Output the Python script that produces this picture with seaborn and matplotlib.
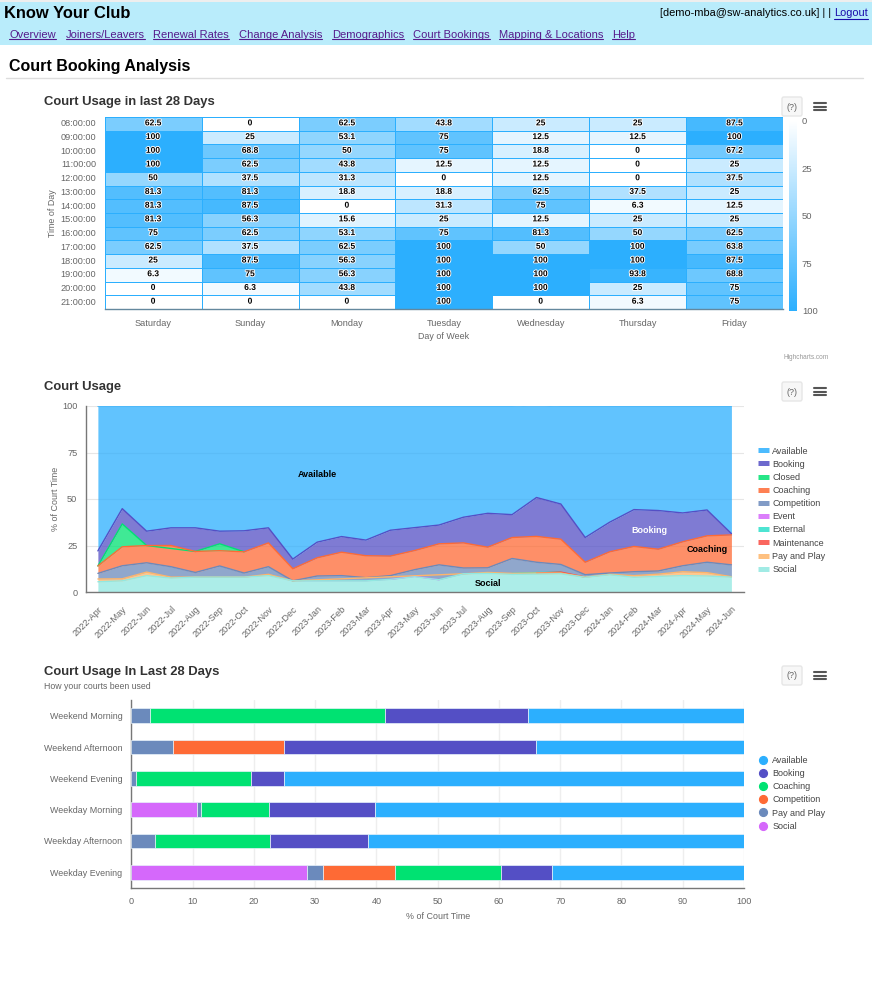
import numpy as np
import pandas as pd
import matplotlib
matplotlib.use("Agg")
import matplotlib.pyplot as plt
import matplotlib.patheffects as pe
from matplotlib.lines import Line2D
from matplotlib.patches import Rectangle, FancyBboxPatch
import seaborn as sns

# heatmap data
days = ["Saturday", "Sunday", "Monday", "Tuesday", "Wednesday", "Thursday", "Friday"]
hours = ["08:00:00", "09:00:00", "10:00:00", "11:00:00", "12:00:00", "13:00:00", "14:00:00",
         "15:00:00", "16:00:00", "17:00:00", "18:00:00", "19:00:00", "20:00:00", "21:00:00"]
saturday = [62.5, 100, 100, 100, 50, 81.3, 81.3, 81.3, 75, 62.5, 25, 6.3, 0, 0]
sunday = [0, 25, 68.8, 62.5, 37.5, 81.3, 87.5, 56.3, 62.5, 37.5, 87.5, 75, 6.3, 0]
monday = [62.5, 53.1, 50, 43.8, 31.3, 18.8, 0, 15.6, 53.1, 62.5, 56.3, 56.3, 43.8, 0]
tuesday = [43.8, 75, 75, 12.5, 0, 18.8, 31.3, 25, 75, 100, 100, 100, 100, 100]
wednesday = [25, 12.5, 18.8, 12.5, 12.5, 62.5, 75, 12.5, 81.3, 50, 100, 100, 100, 0]
thursday = [25, 12.5, 0, 0, 0, 37.5, 6.3, 25, 50, 100, 100, 93.8, 25, 6.3]
friday = [87.5, 100, 67.2, 25, 37.5, 25, 12.5, 25, 62.5, 63.8, 87.5, 68.8, 75, 75]

# stacked area data, % of court time per month
months = ["2022-Apr", "2022-May", "2022-Jun", "2022-Jul", "2022-Aug", "2022-Sep", "2022-Oct", "2022-Nov", "2022-Dec",
          "2023-Jan", "2023-Feb", "2023-Mar", "2023-Apr", "2023-May", "2023-Jun", "2023-Jul", "2023-Aug", "2023-Sep",
          "2023-Oct", "2023-Nov", "2023-Dec", "2024-Jan", "2024-Feb", "2024-Mar", "2024-Apr", "2024-May", "2024-Jun"]
social = [5.5, 6, 8.8, 7.5, 8, 8, 8, 8.8, 6, 6, 6, 6, 6.8, 8.2, 6.6, 9.8, 10, 9.5, 9.6, 9.8, 7.9, 9.3, 7.9, 8.4, 8.8, 8.6, 8]
pay_play = [1.5, 1.1, 1.9, 0.5, 0, 0, 0, 0.7, 0, 0, 0, 0, 0, 0, 0, 0, 0.5, 0.5, 0.6, 0.4, 0.1, 0.2, 0.9, 1.2, 2.1, 1.8, 0.2]
maintenance = [0, 0, 0, 0, 0, 0, 0, 0, 0, 0, 0, 0, 0, 0, 0, 0, 0, 0, 0, 0.5, 0, 0, 0, 0, 0, 0, 0]
external = [0, 0, 0, 0, 0, 0, 0, 0, 0, 0, 0, 0, 0, 0, 0, 0, 0, 0, 0.3, 0, 0, 0, 0, 0, 0, 0, 0]
event = [0, 0, 0, 0, 0, 0, 0, 0, 0, 0, 0, 0, 0, 0.3, 0, 0, 0, 0, 0, 0, 0, 0, 0, 0, 0, 0, 0]
competition = [3, 7, 5, 5.6, 2.5, 6, 2.2, 4.1, 0, 2.6, 2.8, 1.7, 2, 3.5, 8, 3.1, 2.5, 8, 5.5, 4.1, 1.3, 0.7, 2.1, 1.7, 3.2, 5.6, 6.4]
coaching = [4, 10.2, 9.3, 11.4, 11.3, 8.2, 11.4, 12.8, 6.5, 9.8, 12.6, 11.8, 10.5, 10.3, 11.3, 13.5, 11.1, 11.3, 13.9, 13.6, 6.7, 11.4, 13.6, 11.7, 12.9, 14.2, 16.1]
closed = [0, 12.3, 0, 0, 0, 3.7, 0, 0, 0, 0, 0, 0, 0, 0, 0, 0, 0, 0, 0, 0, 0, 0, 0, 0, 0, 0, 0]
booking = [8.1, 8.2, 7.7, 9.5, 12.7, 6.8, 11.3, 8.1, 5.2, 8.4, 8.4, 8.4, 13.9, 12.3, 10.1, 13.8, 18.2, 12.3, 20.9, 18.9, 13.3, 15.9, 19.8, 20.8, 15.5, 13.9, 0.7]
available = [77.9, 55.2, 67.3, 65.5, 65.5, 67.3, 67.1, 65.5, 82.3, 73.2, 70.2, 72.1, 66.8, 65.4, 64, 59.8, 57.7, 58.4, 49.8, 52.7, 70.7, 62.5, 55.7, 56.2, 57.5, 55.9, 68.6]

# stacked bar data
bar_groups = ["Weekend Morning", "Weekend Afternoon", "Weekend Evening",
              "Weekday Morning", "Weekday Afternoon", "Weekday Evening"]
bar_social = [0, 0, 0, 10.8, 0, 28.6]
bar_pay_play = [3.1, 6.8, 0.7, 0.5, 3.8, 2.7]
bar_competition = [0, 18.2, 0, 0, 0, 11.8]
bar_coaching = [38.3, 0, 18.9, 11.2, 18.8, 17.3]
bar_booking = [23.3, 41, 5.4, 17.3, 16.1, 8.2]
bar_available = [35.3, 34, 75, 60.2, 61.3, 31.4]

nav_links = ["Overview", "Joiners/Leavers", "Renewal Rates", "Change Analysis",
             "Demographics", "Court Bookings", "Mapping & Locations", "Help"]
nav_x = [9, 66, 153, 239, 332, 413, 499, 612]

BLUE, PURPLE, GREEN, ORANGE, SLATE, PINK = "#2caffe", "#544fc5", "#00e272", "#fe6a35", "#6b8abc", "#d568fb"
TEAL, RED, PEACH, AQUA = "#2ee0ca", "#fa4b42", "#feb56a", "#91e8e1"
GREY = "#666666"
W, H = 872, 1001

sns.set_theme(style="white")
plt.rcParams["font.family"] = ["Liberation Sans", "DejaVu Sans"]

fig = plt.figure(figsize=(W / 100, H / 100), dpi=100, facecolor="white")


def px_axes(x0, y0, x1, y1):
    return fig.add_axes([x0 / W, 1 - y1 / H, (x1 - x0) / W, (y1 - y0) / H])


def page_text(x, y, s, **kw):
    kw.setdefault("va", "center")
    # centre alignment sits a little high against the browser text
    return fig.text(x / W, 1 - (y + 1.5) / H, s, **kw)


def underline(t, y, color):
    box = t.get_window_extent(fig.canvas.get_renderer())
    fig.add_artist(Line2D([box.x0 / W, box.x1 / W], [1 - y / H, 1 - y / H], color=color, lw=0.8))


def chart_buttons(top):
    fig.add_artist(FancyBboxPatch((782 / W, 1 - (top + 20) / H), 20 / W, 19 / H,
                                  boxstyle="round,pad=0,rounding_size=0.002", transform=fig.transFigure,
                                  fc="#f7f7f7", ec="#e6e6e6", lw=1))
    page_text(792, top + 9.5, "(?)", color=GREY, fontsize=6.5, ha="center")
    for dy in (7, 10.5, 14):
        yy = 1 - (top + dy) / H
        fig.add_artist(Line2D([814 / W, 826 / W], [yy, yy], color="#555555", lw=1.5))


# page header
fig.add_artist(Rectangle((0, 1 - 2 / H), 1, 2 / H, transform=fig.transFigure, fc="#eeeeee", ec="none"))
fig.add_artist(Rectangle((0, 1 - 45 / H), 1, 43 / H, transform=fig.transFigure, fc="#b9ecfb", ec="none"))
page_text(4, 11.5, "Know Your Club", fontsize=11.9, fontweight="bold", color="black")
logout = page_text(868, 12, "Logout", fontsize=7.9, color="#1a0dab", ha="right")
page_text(831.5, 12, "[demo-mba@sw-analytics.co.uk] | |", fontsize=7.9, color="black", ha="right")
underline(logout, 19, "#1a0dab")
for name, x in zip(nav_links, nav_x):
    underline(page_text(x, 37.5 - 1.5, name, fontsize=8.0, color="#551a8b", va="baseline"), 39, "#551a8b")
page_text(9, 64.5, "Court Booking Analysis", fontsize=11.5, fontweight="bold", color="black")
fig.add_artist(Line2D([6 / W, 863 / W], [1 - 78 / H] * 2, color="#dddddd", lw=1))

# heatmap
page_text(44, 101, "Court Usage in last 28 Days", fontsize=9.4, fontweight="bold", color="#333333")
chart_buttons(96)
heat_df = pd.DataFrame({"Saturday": saturday, "Sunday": sunday, "Monday": monday, "Tuesday": tuesday,
                        "Wednesday": wednesday, "Thursday": thursday, "Friday": friday}, index=hours)[days]
ax1 = px_axes(104.7, 117, 783, 309)
cax = px_axes(789, 120.5, 797, 311)
cmap = sns.blend_palette(["#ffffff", BLUE], as_cmap=True)
sns.heatmap(heat_df, ax=ax1, cbar_ax=cax, cmap=cmap, vmin=0, vmax=100, annot=True, fmt="g",
            linewidths=0.6, linecolor=BLUE, xticklabels=True, yticklabels=True,
            annot_kws={"fontsize": 6.1, "fontweight": "bold", "color": "black"})
for t in ax1.texts:
    t.set_path_effects([pe.withStroke(linewidth=1.3, foreground="white")])
ax1.tick_params(axis="both", length=0, labelsize=6.6, labelcolor=GREY)
ax1.tick_params(axis="x", pad=7)
ax1.tick_params(axis="y", pad=6, labelrotation=0)
ax1.set_xlabel("Day of Week", fontsize=6.4, color=GREY, labelpad=3)
ax1.set_ylabel("Time of Day", fontsize=6.4, color=GREY, labelpad=2.5)
ax1.spines["bottom"].set_visible(True)
ax1.spines["bottom"].set_color("#64889e")
ax1.spines["bottom"].set_linewidth(1)
cax.invert_yaxis()
cax.set_yticks([0, 25, 50, 75, 100])
cax.tick_params(axis="y", direction="in", length=8, width=0.7, color="white", labelsize=6.8, labelcolor=GREY, pad=3.5)
for s in cax.spines.values():
    s.set_visible(False)
page_text(829, 356, "Highcharts.com", fontsize=4.7, color="#999999", ha="right")

# stacked area
page_text(44, 386, "Court Usage", fontsize=9.4, fontweight="bold", color="#333333")
chart_buttons(381)
area_names = ["Available", "Booking", "Closed", "Coaching", "Competition", "Event", "External",
              "Maintenance", "Pay and Play", "Social"]
area_values = [available, booking, closed, coaching, competition, event, external, maintenance, pay_play, social]
area_colors = [BLUE, PURPLE, GREEN, ORANGE, SLATE, PINK, TEAL, RED, PEACH, AQUA]

ax2 = px_axes(85.7, 406, 743.6, 592)
xs = np.arange(len(months))
ax2.stackplot(xs, area_values[::-1], colors=area_colors[::-1], alpha=0.75, linewidth=0, zorder=2)
stack = np.cumsum(np.array(area_values[::-1]), axis=0)[::-1]
for vals, top, c in zip(area_values, stack, area_colors):
    vals = np.array(vals)
    # only draw the top edge where the series has some height
    on = np.convolve(vals > 0, [1, 1, 1], mode="same") > 0
    sns.lineplot(x=xs, y=np.where(on, top, np.nan), color=c, lw=1.0, ax=ax2, zorder=3, errorbar=None)
ax2.set_xlim(-0.5, len(months) - 0.5)
ax2.set_ylim(0, 100)
ax2.set_yticks([0, 25, 50, 75, 100])
ax2.set_xticks(xs)
ax2.set_xticklabels(months, rotation=45, ha="right", rotation_mode="anchor")
ax2.tick_params(axis="both", length=0, labelsize=6.6, labelcolor=GREY)
ax2.tick_params(axis="x", pad=9)
ax2.tick_params(axis="y", pad=6)
ax2.grid(axis="y", color="#e6e6e6", lw=0.8, zorder=0)
ax2.set_axisbelow(True)
ax2.set_ylabel("% of Court Time", fontsize=6.4, color=GREY, labelpad=1.5)
for side in ("top", "right"):
    ax2.spines[side].set_visible(False)
for side in ("left", "bottom"):
    ax2.spines[side].set_color("#777777")
    ax2.spines[side].set_linewidth(1)
for label, i, y, c in [("Available", 9, 63, "black"), ("Booking", 22.65, 33.3, "white"),
                       ("Coaching", 25, 23, "black"), ("Social", 16, 4.8, "black")]:
    ax2.text(i, y, label, ha="center", va="center", fontsize=6.5, fontweight="bold", color=c, zorder=5)
handles = [Line2D([], [], color=c, lw=3.6, alpha=0.85, solid_capstyle="butt") for c in area_colors]
ax2.legend(handles, area_names, loc="upper left", bbox_to_anchor=(757.7 / W, 1 - 446.5 / H),
           bbox_transform=fig.transFigure, frameon=False, fontsize=6.5, labelcolor="#444444",
           handlelength=1.2, handletextpad=0.4, labelspacing=0.46, borderpad=0, borderaxespad=0)

# stacked bars
page_text(44, 670, "Court Usage In Last 28 Days", fontsize=9.4, fontweight="bold", color="#333333")
page_text(44, 685, "How your courts been used", fontsize=6.3, color=GREY)
chart_buttons(665)
bar_names = ["Social", "Pay and Play", "Competition", "Coaching", "Booking", "Available"]
bar_values = [bar_social, bar_pay_play, bar_competition, bar_coaching, bar_booking, bar_available]
bar_colors = [PINK, SLATE, ORANGE, GREEN, PURPLE, BLUE]

ax3 = px_axes(131.3, 700, 744, 888)
groups = np.array(bar_groups)
lefts = np.zeros(len(groups))
for vals, c in zip(bar_values, bar_colors):
    vals = np.array(vals, dtype=float)
    keep = vals > 0
    sns.barplot(x=vals[keep], y=groups[keep], order=bar_groups, orient="h", color=c, saturation=1,
                left=lefts[keep], width=0.47, edgecolor="#e8f2fa", linewidth=0.5, errorbar=None, ax=ax3, zorder=3)
    lefts += vals
ax3.set_xlim(0, 100)
ax3.set_ylim(5.5, -0.5)
ax3.set_xticks(range(0, 101, 10))
ax3.tick_params(axis="both", length=0, labelsize=6.6, labelcolor=GREY)
ax3.tick_params(axis="y", labelsize=6.4, pad=6.5)
ax3.tick_params(axis="x", pad=6.5)
ax3.grid(axis="x", color="#eeeeee", lw=1, zorder=0)
ax3.set_axisbelow(True)
ax3.set_xlabel("% of Court Time", fontsize=6.4, color=GREY, labelpad=4)
ax3.set_ylabel("")
for side in ("top", "right"):
    ax3.spines[side].set_visible(False)
for side in ("left", "bottom"):
    ax3.spines[side].set_color("#777777")
    ax3.spines[side].set_linewidth(1)
order = [5, 4, 3, 2, 1, 0]
handles = [Line2D([], [], ls="", marker="o", ms=5.6, color=bar_colors[i]) for i in order]
ax3.legend(handles, [bar_names[i] for i in order], loc="upper left", bbox_to_anchor=(759 / W, 1 - 756 / H),
           bbox_transform=fig.transFigure, frameon=False, fontsize=6.5, labelcolor="#444444",
           handlelength=0.8, handletextpad=0.65, labelspacing=0.46, borderpad=0, borderaxespad=0)

fig.savefig("out.png", dpi=100, facecolor="white")
